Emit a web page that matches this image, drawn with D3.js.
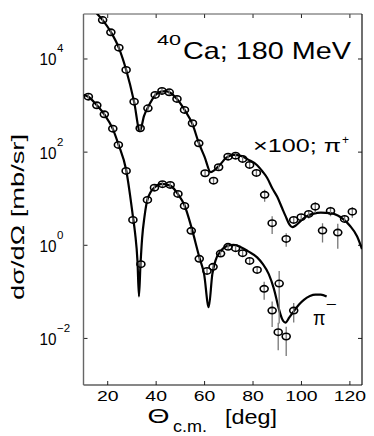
<!DOCTYPE html>
<html>
<head>
<meta charset="utf-8">
<script src="https://cdn.jsdelivr.net/npm/d3@7"></script>
<style>
  body { margin: 0; background: #fff; }
  svg { display: block; font-family: "Liberation Sans", Arial, sans-serif; }
</style>
</head>
<body>
<svg id="chart"></svg>
<script>
window.onload = function(){
    makeChart();
};

const WIDTH = 374;
const HEIGHT = 436;

// pi+ (x100) data: angle [deg], dsigma/dOmega [mb/sr], error
const plusAngle = [17.9, 21.3, 24.6, 27.6, 30.9, 33.4, 36.6, 39.6, 42.4, 45.4, 48.6, 51.7, 55.0, 57.6,
    60.2, 63.7, 65.8, 69.7, 72.8, 75.7, 78.6, 81.4, 84.8, 87.9, 93.7, 96.8, 99.9, 103.0, 105.7,
    108.7, 112.0, 115.0, 117.8, 121.0];
const plusValue = [68700, 37400, 17500, 5810, 1213, 326, 875, 1690, 2060, 1930, 1390, 805, 417, 155,
    35.2, 24.4, 47.4, 80.0, 84.1, 71.4, 53.1, 35.8, 12.1, 2.98, 1.37, 3.51, 4.01, 4.72, 6.76,
    2.07, 5.47, 1.87, 3.69, 5.28];
const plusError = [3000, 1800, 900, 300, 60, 18, 40, 80, 100, 90, 70, 40, 20, 8,
    2, 1.5, 2.5, 4, 4, 4, 3, 2.5, 3.5, 1.23, 0.44, 0.52, 0.6, 0.95, 1.75,
    0.92, 1.26, 1.03, 0.65, 1.37];

// pi- data
const minusAngle = [12.0, 15.5, 18.6, 22.1, 24.4, 27.6, 30.4, 33.7, 36.4, 39.3, 42.6, 45.8, 49.0, 51.7,
    54.5, 57.8, 61.0, 63.5, 66.6, 69.7, 72.8, 75.7, 78.6, 81.7, 84.6, 87.9, 90.4, 90.8, 93.7, 96.8];
const minusValue = [1550, 1010, 650, 319, 143, 39.5, 3.51, 0.393, 9.42, 17.3, 20.5, 19.8, 12.7, 7.0,
    2.04, 0.511, 0.282, 0.344, 0.664, 0.925, 0.867, 0.676, 0.462, 0.296, 0.116, 0.0397, 0.0136, 0.151, 0.0110, 0.0397];
const minusError = [60, 40, 25, 12, 6, 1.6, 0.15, 0.03, 0.4, 0.7, 0.8, 0.8, 0.5, 0.3,
    0.1, 0.03, 0.02, 0.02, 0.03, 0.04, 0.04, 0.03, 0.03, 0.03, 0.048, 0.022, 0.008, 0.13, 0.0068, 0.0177];

// theory curves
const plusCurveAngle = [15.5, 18, 21.3, 24.6, 27.6, 30.9, 33.3, 35, 36.6, 39.6, 42, 44, 46, 48.6, 51.7, 55,
    57.6, 60, 62.5, 65.8, 69, 72, 75, 78, 81.7, 84, 85.8, 88, 90, 92, 93.4, 95, 96.2, 97.5, 99.6,
    102, 105.1, 108, 112, 115, 117.5, 120, 123, 125];
const plusCurveValue = [95000, 67600, 38000, 17400, 5890, 1200, 282, 603, 912, 1660, 2000, 2040, 1860, 1380, 813, 398,
    158, 79.4, 37.2, 50.1, 75.9, 87.1, 83.2, 69.2, 52.5, 38, 28.2, 16.6, 11.0, 6.31, 4.27, 2.82, 2.45, 2.63, 3.31,
    4.17, 4.79, 5.01, 4.90, 4.37, 3.55, 2.63, 1.55, 0.83];

const minusCurveAngle = [10, 12, 15.5, 18.6, 22.1, 24.4, 27.6, 30.4, 31.3, 32.3, 32.9, 33.5, 34.2, 35.2, 36.4,
    39.3, 42.4, 45.8, 49, 51.7, 54.5, 57.8, 59.8, 61.7, 63.2, 64.5, 66.6, 69.5, 72, 75, 78, 81.7, 84,
    86.5, 88.6, 90.6, 92, 93.4, 95, 96.8, 99, 101, 103.5, 105.8, 108, 110.4];
const minusCurveValue = [1700, 1550, 1020, 646, 316, 148, 41.7, 4.17, 1.82, 0.447, 0.0794, 0.355, 1.41, 4.17, 9.55,
    17.4, 20.9, 19.1, 12.6, 7.24, 2.51, 0.562, 0.24, 0.0468, 0.24, 0.468, 0.741, 0.977, 1.02, 0.912, 0.741, 0.55, 0.398,
    0.24, 0.117, 0.0447, 0.0263, 0.0219, 0.0282, 0.038, 0.0537, 0.0676, 0.0813, 0.0871, 0.0871, 0.0794];

const xTicks = [20, 40, 60, 80, 100, 120];
const yTicks = [1e-2, 1, 1e2, 1e4];
const yTickExp = ["\u22122", "0", "2", "4"];

function makeChart(){
    const svg = d3.select('#chart')
        .attr('width', WIDTH)
        .attr('height', HEIGHT);

    const left = 83.5, right = 362, top = 14, bottom = 385;

    const x = d3.scaleLinear().domain([10, 125]).range([left, right]);
    const y = d3.scaleLog().domain([1e-3, 92500]).range([bottom, top]);

    svg.append('clipPath').attr('id', 'plotClip')
        .append('rect')
        .attr('x', left).attr('y', top)
        .attr('width', right - left).attr('height', bottom - top);

    // ticks, inward on all four sides
    const tickLen = 4;
    const g = svg.append('g').attr('stroke', '#222').attr('stroke-width', 1);
    xTicks.forEach(t => {
        g.append('line').attr('x1', x(t)).attr('x2', x(t)).attr('y1', bottom).attr('y2', bottom - tickLen);
        g.append('line').attr('x1', x(t)).attr('x2', x(t)).attr('y1', top).attr('y2', top + tickLen);
    });
    yTicks.forEach(t => {
        g.append('line').attr('x1', left).attr('x2', left + tickLen).attr('y1', y(t)).attr('y2', y(t));
        g.append('line').attr('x1', right).attr('x2', right - tickLen).attr('y1', y(t)).attr('y2', y(t));
    });

    // frame
    svg.append('line').attr('x1', left).attr('x2', right).attr('y1', top).attr('y2', top)
        .attr('stroke', '#555').attr('stroke-width', 1);
    svg.append('line').attr('x1', left).attr('x2', right).attr('y1', bottom).attr('y2', bottom)
        .attr('stroke', '#111').attr('stroke-width', 1.2);
    svg.append('line').attr('x1', right).attr('x2', right).attr('y1', top).attr('y2', bottom)
        .attr('stroke', '#111').attr('stroke-width', 1.2);
    svg.append('line').attr('x1', left).attr('x2', left).attr('y1', top).attr('y2', bottom)
        .attr('stroke', '#666').attr('stroke-width', 1.4);

    // tick labels
    xTicks.forEach(t => {
        const s = String(t);
        svg.append('text')
            .attr('x', x(t)).attr('y', 401)
            .attr('text-anchor', 'middle')
            .attr('font-size', 14.5)
            .attr('textLength', 10.8 * s.length)
            .attr('lengthAdjust', 'spacingAndGlyphs')
            .text(s);
    });
    yTicks.forEach((t, i) => {
        svg.append('text')
            .attr('x', 39.5).attr('y', y(t) + 6.5)
            .attr('font-size', 16)
            .attr('textLength', 17)
            .attr('lengthAdjust', 'spacingAndGlyphs')
            .text('10');
        svg.append('text')
            .attr('x', 57).attr('y', y(t) - 6.5)
            .attr('font-size', 11.5)
            .text(yTickExp[i]);
    });

    const line = d3.line()
        .x(d => x(d[0]))
        .y(d => y(d[1]))
        .curve(d3.curveMonotoneX);

    const curves = svg.append('g').attr('clip-path', 'url(#plotClip)');
    curves.append('path')
        .datum(plusCurveAngle.map((a, i) => [a, plusCurveValue[i]]))
        .attr('d', line)
        .attr('fill', 'none').attr('stroke', '#000').attr('stroke-width', 2.2);
    curves.append('path')
        .datum(minusCurveAngle.map((a, i) => [a, minusCurveValue[i]]))
        .attr('d', line)
        .attr('fill', 'none').attr('stroke', '#000').attr('stroke-width', 2.2);

    const rx = 4, ry = 3.2;
    function drawPoints(angles, values, errors){
        const pts = angles.map((a, i) => ({a: a, v: values[i], e: errors[i]}));
        const pg = svg.append('g').attr('clip-path', 'url(#plotClip)');
        pg.selectAll('line.err')
            .data(pts)
            .enter()
            .append('line')
            .attr('class', 'err')
            .attr('x1', d => x(d.a)).attr('x2', d => x(d.a))
            .attr('y1', d => Math.min(y(d.v + d.e), y(d.v) - ry))
            .attr('y2', d => Math.max(d.v - d.e > 1e-3 ? y(d.v - d.e) : bottom, y(d.v) + ry))
            .attr('stroke', '#777').attr('stroke-width', 1.3);
        pg.selectAll('ellipse')
            .data(pts)
            .enter()
            .append('ellipse')
            .attr('cx', d => x(d.a)).attr('cy', d => y(d.v))
            .attr('rx', rx).attr('ry', ry)
            .attr('fill', 'none').attr('stroke', '#000').attr('stroke-width', 1.6);
    }
    drawPoints(plusAngle, plusValue, plusError);
    drawPoints(minusAngle, minusValue, minusError);

    // annotations
    svg.append('text').attr('x', 157).attr('y', 44.5).attr('font-size', 15)
        .attr('textLength', 24).attr('lengthAdjust', 'spacingAndGlyphs').text('40');
    svg.append('text').attr('x', 183).attr('y', 58.5).attr('font-size', 24)
        .attr('textLength', 168).attr('lengthAdjust', 'spacingAndGlyphs').text('Ca; 180 MeV');

    svg.append('text').attr('x', 253).attr('y', 152).attr('font-size', 18.5)
        .attr('textLength', 88).attr('lengthAdjust', 'spacingAndGlyphs').text('\u00d7100; \u03c0');
    svg.append('text').attr('x', 342).attr('y', 144).attr('font-size', 12).text('+');

    svg.append('text').attr('x', 313).attr('y', 325).attr('font-size', 21)
        .attr('textLength', 12.5).attr('lengthAdjust', 'spacingAndGlyphs').text('\u03c0');
    svg.append('text').attr('x', 325.5).attr('y', 308.5).attr('font-size', 14)
        .attr('textLength', 11).attr('lengthAdjust', 'spacingAndGlyphs').text('\u2212');

    // axis titles
    svg.append('text').attr('x', 147.5).attr('y', 423).attr('font-size', 20)
        .attr('textLength', 22).attr('lengthAdjust', 'spacingAndGlyphs').text('\u0398');
    svg.append('text').attr('x', 173).attr('y', 432).attr('font-size', 16)
        .attr('textLength', 34).attr('lengthAdjust', 'spacingAndGlyphs').text('c.m.');
    svg.append('text').attr('x', 225).attr('y', 423.5).attr('font-size', 21)
        .attr('textLength', 52).attr('lengthAdjust', 'spacingAndGlyphs').text('[deg]');

    svg.append('text')
        .attr('transform', 'translate(24,217) rotate(-90)')
        .attr('text-anchor', 'middle')
        .attr('font-size', 19)
        .attr('textLength', 166)
        .attr('lengthAdjust', 'spacingAndGlyphs')
        .text('d\u03c3/d\u03a9 [mb/sr]');
}
</script>
</body>
</html>
